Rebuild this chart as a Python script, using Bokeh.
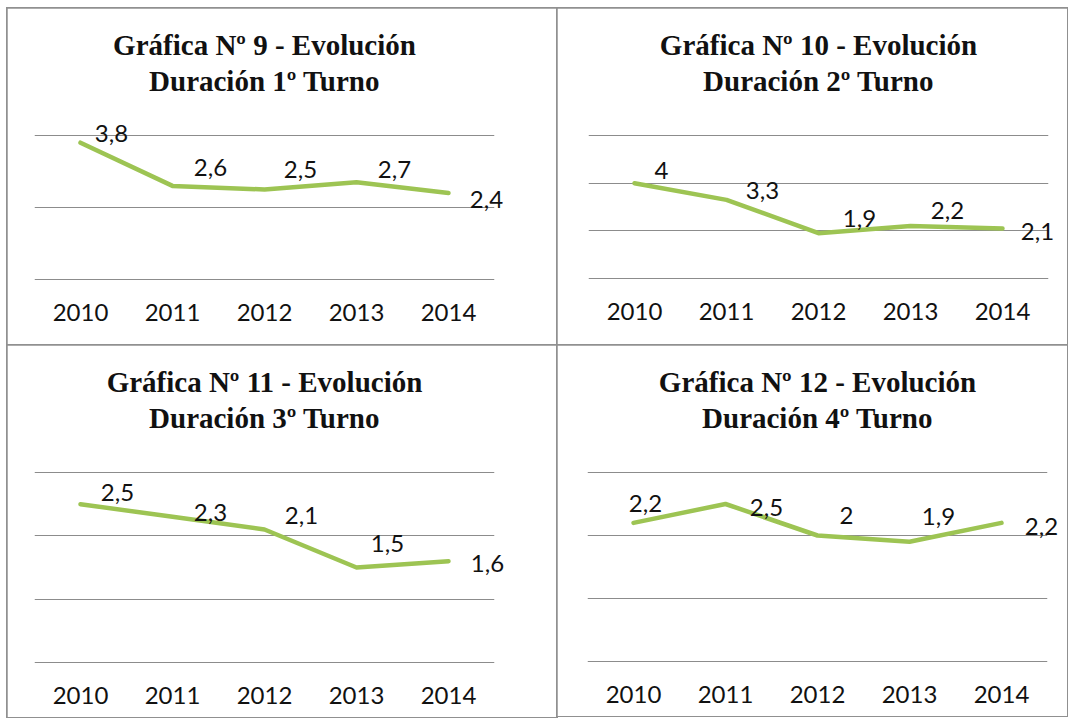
from bokeh.plotting import figure
from bokeh.models import FactorRange, Range1d, FixedTicker, ColumnDataSource, Spacer, Title
from bokeh.layouts import column, row
from bokeh.embed import file_html
from bokeh.resources import INLINE
from bokeh.core.properties import value

# ---- data ----
years = ["2010", "2011", "2012", "2013", "2014"]
turno1 = [3.8, 2.6, 2.5, 2.7, 2.4]
turno2 = [4.0, 3.3, 1.9, 2.2, 2.1]
turno3 = [2.5, 2.3, 2.1, 1.5, 1.6]
turno4 = [2.2, 2.5, 2.0, 1.9, 2.2]
titles1 = ["Gráfica Nº 9 - Evolución", "Gráfica Nº 10 - Evolución",
           "Gráfica Nº 11 - Evolución", "Gráfica Nº 12 - Evolución"]
titles2 = ["Duración 1º Turno", "Duración 2º Turno",
           "Duración 3º Turno", "Duración 4º Turno"]
y_max = [4, 6, 3, 3]
y_ticks = [[0, 2, 4], [0, 2, 4, 6], [0, 1, 2, 3], [0, 1, 2, 3]]

# ---- style ----
GREEN = "#9DC453"
GRID = "#8c8c8c"
BORDER = "#909090"
LABEL_FONT = "Lato"
TITLE_FONT = "Liberation Serif"
PAD = 2  # px of vertical padding so edge gridlines are visible
# data-label offsets in screen pixels (dx right, dy down), per panel
LABEL_DX = [[31, 38, 36, 38, 38], [27, 36, 41, 37, 35],
            [37, 38, 37, 31, 39], [12, 41, 29, 29, 40]]
LABEL_DY = [[-9, -18, -20, -13, 6], [-13, -9, -15, -16, 3],
            [-12, -4, -14, -24, 2], [-19, 3, -20, -25, 4]]


def fmt(v):
    return ("%g" % v).replace(".", ",")


def make(i, vals, left, right, top, fh, bottom):
    ym = y_max[i]
    d = PAD * ym / fh
    p = figure(x_range=FactorRange(*years, range_padding=0),
               y_range=Range1d(-d, ym + d),
               frame_width=460, frame_height=fh + 2 * PAD,
               min_border_left=left, min_border_right=right,
               min_border_top=top - PAD, min_border_bottom=bottom - PAD,
               output_backend="svg", toolbar_location=None, title=None,
               background_fill_color="white", border_fill_color="white",
               outline_line_color=None,
               styles={"outline": f"2px solid {BORDER}", "outline-offset": "-1px"})
    # spacer between frame and the two title lines
    p.add_layout(Title(text=" ", text_font_size="2px", standoff=32), "above")
    for txt in (titles2[i], titles1[i]):
        p.add_layout(Title(text=txt, align="center", text_font=TITLE_FONT,
                           text_font_size="29px", text_font_style="bold",
                           text_color="#111111", standoff=2), "above")

    p.yaxis.visible = False
    p.xgrid.visible = False
    p.ygrid.ticker = FixedTicker(ticks=y_ticks[i])
    p.ygrid.grid_line_color = GRID
    p.ygrid.grid_line_width = 1.2
    ax = p.xaxis[0]
    ax.axis_line_color = None
    ax.major_tick_line_color = None
    ax.minor_tick_line_color = None
    ax.major_tick_out = 0
    ax.major_tick_in = 0
    ax.major_label_standoff = 22
    ax.major_label_text_font = LABEL_FONT
    ax.major_label_text_font_size = "24px"
    ax.major_label_text_color = "#111111"

    src = ColumnDataSource(dict(x=years, y=vals, t=[fmt(v) for v in vals],
                                dx=LABEL_DX[i], dy=LABEL_DY[i]))
    p.line("x", "y", source=src, line_color=GREEN, line_width=4.5,
           line_cap="round", line_join="round")
    p.text("x", "y", text="t", source=src, x_offset="dx", y_offset="dy",
           text_align="center", text_baseline="middle",
           text_font=value(LABEL_FONT), text_font_size="24px",
           text_color="#111111", level="overlay")
    return p


p1 = make(0, turno1, 27, 63, 126, 144, 67)
p2 = make(1, turno2, 31, 19, 127, 143, 67)
p3 = make(2, turno3, 27, 63, 127, 190, 55)
p4 = make(3, turno4, 30, 20, 124, 189, 58)

layout = column(Spacer(height=8),
                row(Spacer(width=7), p1, p2),
                row(Spacer(width=7), p3, p4))
with open("out.html", "w") as f:
    f.write(file_html(layout, INLINE))
